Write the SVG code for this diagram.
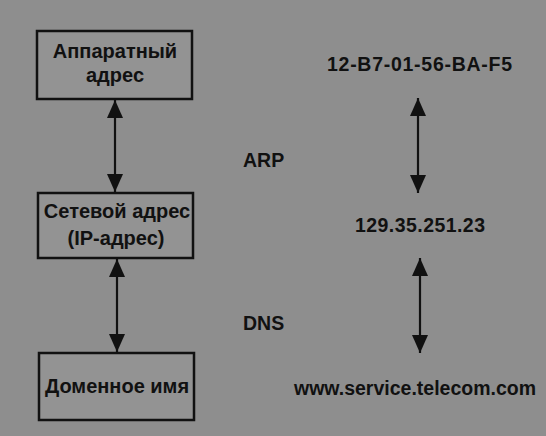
<svg xmlns="http://www.w3.org/2000/svg" width="546" height="436" viewBox="0 0 546 436">
<defs>
<style>
.box{fill:#939393;stroke:#111;stroke-width:2.5}
.t{font-family:"Liberation Sans",Arial,sans-serif;font-size:20px;font-weight:bold;fill:#111;text-anchor:middle}
.r{font-family:"Liberation Sans",Arial,sans-serif;font-size:19.5px;font-weight:bold;fill:#111;text-anchor:middle}
.c{stroke:#111;stroke-width:2.2;fill:none;marker-start:url(#ah);marker-end:url(#ah)}
</style>
<marker id="ah" viewBox="0 0 18 16" refX="18" refY="8" markerWidth="18" markerHeight="16" markerUnits="userSpaceOnUse" orient="auto-start-reverse">
<path d="M0,0 L18,8 L0,16 Z" fill="#111"/>
</marker>
</defs>
<rect x="0" y="0" width="546" height="436" fill="#8e8e8e"/>
<g id="connectors">
<line class="c" x1="115" y1="100" x2="115" y2="192"/>
<line class="c" x1="117" y1="259" x2="117" y2="352"/>
<line class="c" x1="418" y1="98" x2="418" y2="193"/>
<line class="c" x1="420" y1="258" x2="420" y2="353"/>
</g>
<g id="hw">
<rect class="box" x="37" y="31" width="155" height="68"/>
<text class="t" x="115" y="58">Аппаратный</text>
<text class="t" x="115" y="82">адрес</text>
</g>
<g id="net">
<rect class="box" x="38" y="193" width="155" height="65"/>
<text class="t" x="117" y="218">Сетевой адрес</text>
<text class="t" x="116" y="245">(IP-адрес)</text>
</g>
<g id="dom">
<rect class="box" x="39" y="353" width="155" height="67"/>
<text class="t" x="117" y="393">Доменное имя</text>
</g>
<g id="labels">
<text class="r" x="243" y="167" style="text-anchor:start">ARP</text>
<text class="r" x="243" y="330" style="text-anchor:start">DNS</text>
<text class="r" x="419.5" y="71" textLength="185" lengthAdjust="spacing">12-B7-01-56-BA-F5</text>
<text class="r" x="420" y="232" textLength="130" lengthAdjust="spacing">129.35.251.23</text>
<text class="r" x="415" y="395">www.service.telecom.com</text>
</g>
</svg>
